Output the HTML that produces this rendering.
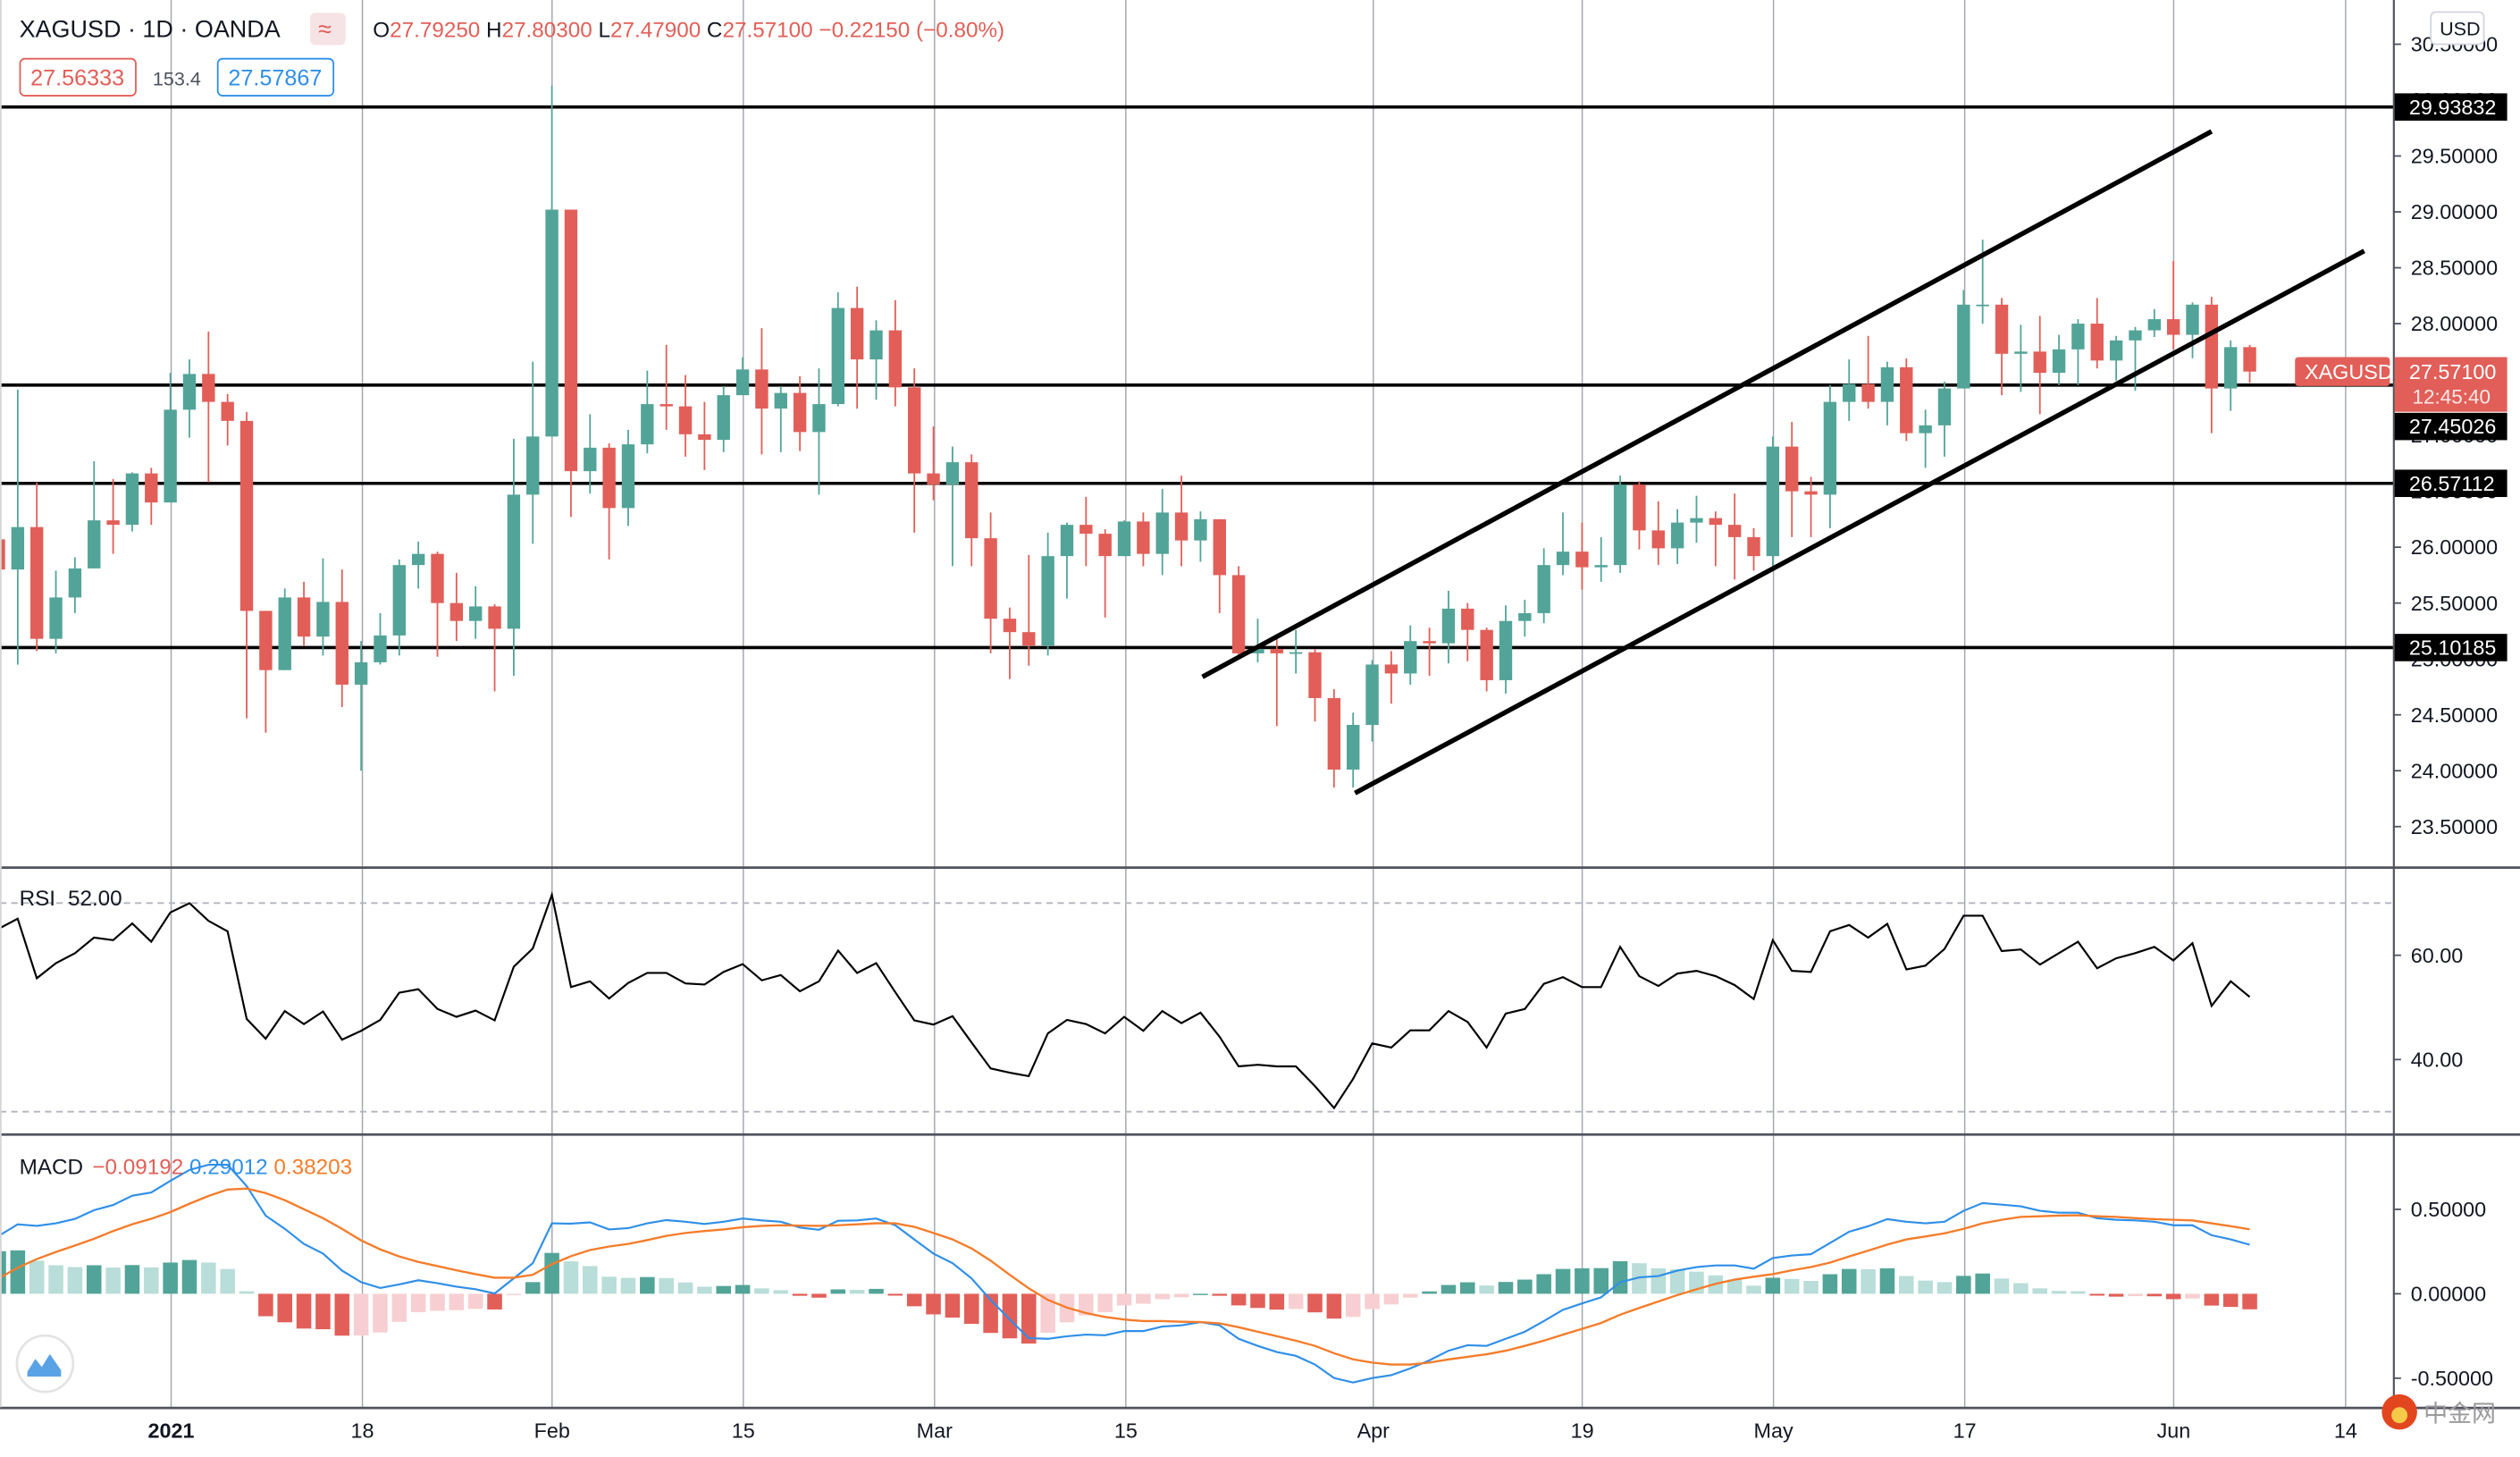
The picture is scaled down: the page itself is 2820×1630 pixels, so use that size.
<!DOCTYPE html>
<html><head><meta charset="utf-8"><title>XAGUSD 1D</title>
<style>
html,body{margin:0;padding:0;background:#fff;}
svg{display:block;font-family:"Liberation Sans","Noto Sans CJK SC",sans-serif;}
</style></head>
<body>
<svg id="chart" width="2820" height="1630" viewBox="0 0 1568 906" preserveAspectRatio="none" xmlns="http://www.w3.org/2000/svg">
<rect x="0" y="0" width="1568" height="906" fill="#ffffff"/>
<g id="grid"></g>
<g id="hlines"></g>
<g id="candles"></g>
<g id="channel"></g>
<g id="rsi"></g>
<g id="macd"></g>
<g id="frame">
  <line x1="0" y1="539.5" x2="1568" y2="539.5" stroke="#50535e" stroke-width="1.5"/>
  <line x1="0" y1="705.5" x2="1568" y2="705.5" stroke="#50535e" stroke-width="1.5"/>
  <line x1="0" y1="875.5" x2="1568" y2="875.5" stroke="#50535e" stroke-width="1.5"/>
  <line x1="1489.5" y1="0" x2="1489.5" y2="875" stroke="#50535e" stroke-width="1.2"/>
  <line x1="0.5" y1="0" x2="0.5" y2="875" stroke="#d6d6d6" stroke-width="1"/>
</g>
<g id="axis"></g>
<g id="taxis"></g>
<g id="header">
  <text x="12" y="23" font-size="15" fill="#131722">XAGUSD · 1D · OANDA</text>
  <rect x="193" y="8" width="22" height="20" rx="3" fill="#f6e3e6"/>
  <text x="198" y="23" font-size="15" fill="#e15f58">≈</text>
  <text x="232" y="23" font-size="13.5" fill="#e15f58"><tspan fill="#131722">O</tspan>27.79250 <tspan fill="#131722">H</tspan>27.80300 <tspan fill="#131722">L</tspan>27.47900 <tspan fill="#131722">C</tspan>27.57100 −0.22150 (−0.80%)</text>
  <rect x="12.5" y="36.5" width="72" height="23" rx="3" fill="#fff" stroke="#e15f58"/>
  <text x="19" y="53" font-size="14" fill="#e15f58">27.56333</text>
  <text x="95" y="53" font-size="12" fill="#50535e">153.4</text>
  <rect x="135.5" y="36.5" width="72" height="23" rx="3" fill="#fff" stroke="#2f8fe8"/>
  <text x="142" y="53" font-size="14" fill="#2f8fe8">27.57867</text>
  <text x="12" y="563" font-size="13.5" fill="#131722">RSI <tspan dx="4">52.00</tspan></text>
  <text x="12" y="730" font-size="13.5" fill="#131722">MACD <tspan dx="2" fill="#e15f58">−0.09192</tspan> <tspan fill="#2f8fe8">0.29012</tspan> <tspan fill="#f57c2a">0.38203</tspan></text>
</g>
<g>
  <circle cx="28" cy="848" r="17.5" fill="#fff" stroke="#e3e3e3" stroke-width="1.5"/>
  <path d="M17 853 L22 845 L26 850 L31 842 L38 852 L38 856 L17 856 Z" fill="#5aa2e6"/>
</g>
<g>
  <rect x="1512.5" y="7.5" width="33" height="20" rx="3" fill="#fff" stroke="#d1d4dc"/>
  <text x="1518" y="22" font-size="12" fill="#131722">USD</text>
</g>
<g>
  <circle cx="1493" cy="878" r="11" fill="#e2461e"/>
  <circle cx="1493" cy="880" r="5" fill="#f7c948"/>
  <text x="1508" y="884" font-size="15" fill="#9a9a9a" font-family="'Noto Sans CJK SC','WenQuanYi Zen Hei',sans-serif">中金网</text>
</g>
</svg>
<script>
// ---- data (index -9 .. 109, daily candles, index 0 = 2021-01-04) ----
const firstIndex = -9;
const openP = [26.07,25.80,26.18,25.18,25.55,25.81,26.24,26.20,26.66,
26.40,27.23,27.55,27.30,27.13,25.43,24.90,25.55,25.20,25.51,
24.77,24.97,25.21,25.84,25.94,25.50,25.34,25.47,25.27,26.47,
26.99,29.02,26.68,26.89,26.35,26.92,27.28,27.26,27.01,26.96,
27.36,27.59,27.24,27.38,27.03,27.28,28.14,27.68,27.94,27.43,
26.66,26.56,26.76,26.08,25.36,25.24,25.12,25.92,26.20,26.12,
25.92,26.23,25.94,26.31,26.06,26.25,25.75,25.05,25.09,25.05,
25.06,24.65,24.01,24.41,24.95,24.87,25.16,25.14,25.45,25.26,
24.81,25.34,25.41,25.84,25.96,25.82,25.84,26.56,26.15,25.99,
26.22,26.26,26.20,26.09,25.92,26.90,26.50,26.47,27.30,27.46,
27.30,27.61,27.02,27.09,27.42,28.16,28.17,27.73,27.75,27.56,
27.77,28.00,27.67,27.85,27.94,28.04,27.90,28.17,27.42,27.79];
const highP = [26.10,27.41,26.58,25.79,25.91,26.77,26.61,26.67,26.71,
27.56,27.68,27.93,27.37,27.21,25.43,25.63,25.69,25.90,25.80,
25.16,25.41,25.89,26.05,25.96,25.77,25.65,25.49,26.97,27.66,
30.13,29.02,27.19,26.93,27.05,27.58,27.81,27.54,27.30,27.44,
27.70,27.96,27.44,27.53,27.60,28.28,28.33,28.03,28.21,27.60,
27.08,26.90,26.83,26.31,25.46,25.93,26.13,26.22,26.45,26.16,
26.24,26.31,26.52,26.64,26.32,26.25,25.83,25.36,25.18,25.26,
25.09,24.73,24.52,24.99,25.07,25.30,25.28,25.61,25.50,25.28,
25.48,25.53,25.99,26.31,26.22,26.09,26.64,26.59,26.41,26.34,
26.46,26.32,26.48,26.17,26.99,27.12,26.63,27.45,27.68,27.89,
27.66,27.69,27.23,27.48,28.30,28.75,28.23,27.99,28.07,27.90,
28.04,28.23,27.89,27.97,28.13,28.56,28.19,28.24,27.85,27.81];
const lowP = [25.75,24.95,25.07,25.05,25.41,25.81,25.94,26.14,26.20,
26.40,26.98,26.58,26.91,24.47,24.34,24.90,25.12,25.03,24.57,
24.00,24.95,25.03,25.63,25.02,25.16,25.18,24.71,24.85,26.03,
26.99,26.27,26.48,25.89,26.19,26.84,27.05,26.81,26.69,26.85,
27.36,26.83,26.85,26.86,26.47,27.26,27.24,27.32,27.26,26.13,
26.42,25.83,25.83,25.05,24.82,24.94,25.03,25.54,25.83,25.37,
25.92,25.83,25.75,25.83,25.87,25.41,25.01,24.97,24.40,24.87,
24.44,23.85,23.85,24.26,24.60,24.77,24.85,24.96,24.98,24.71,
24.69,25.20,25.32,25.75,25.62,25.69,25.77,25.98,25.84,25.85,
26.04,25.83,25.71,25.79,25.79,26.09,26.09,26.17,27.13,27.24,
27.09,26.95,26.71,26.81,27.42,28.00,27.36,27.39,27.19,27.45,
27.45,27.60,27.49,27.40,27.88,27.77,27.69,27.02,27.22,27.47];
const closeP = [25.80,26.18,25.18,25.55,25.81,26.24,26.20,26.66,26.40,
27.23,27.55,27.30,27.13,25.43,24.90,25.55,25.20,25.51,24.77,
24.97,25.21,25.84,25.94,25.50,25.34,25.47,25.27,26.47,26.99,
29.02,26.68,26.89,26.35,26.92,27.28,27.26,27.01,26.96,27.36,
27.59,27.24,27.38,27.03,27.28,28.14,27.68,27.94,27.43,26.66,
26.56,26.76,26.08,25.36,25.24,25.12,25.92,26.20,26.12,25.92,
26.23,25.94,26.31,26.06,26.25,25.75,25.05,25.09,25.05,25.06,
24.65,24.01,24.41,24.95,24.87,25.16,25.14,25.45,25.26,24.81,
25.34,25.41,25.84,25.96,25.82,25.84,26.56,26.15,25.99,26.22,
26.26,26.20,26.09,25.92,26.90,26.50,26.47,27.30,27.46,27.30,
27.61,27.02,27.09,27.42,28.17,28.17,27.73,27.75,27.56,27.77,
28.00,27.67,27.85,27.94,28.04,27.90,28.17,27.42,27.79,27.571];
const rsiValues = [65.1,67.0,55.6,58.5,60.4,63.4,62.9,66.1,62.6,
68.2,70.0,66.6,64.6,47.8,44.0,49.3,46.8,49.2,43.8,
45.5,47.6,52.8,53.5,49.7,48.2,49.4,47.5,57.8,61.3,
71.6,53.9,55.0,51.7,54.7,56.6,56.6,54.6,54.4,56.8,
58.3,55.2,56.2,53.1,55.0,60.9,56.6,58.5,52.9,47.5,
46.7,48.3,43.3,38.3,37.5,36.8,45.0,47.6,46.8,45.0,
48.2,45.5,49.3,47.0,49.0,44.4,38.7,39.0,38.7,38.7,
34.9,30.7,36.3,43.1,42.3,45.6,45.6,49.3,47.2,42.3,
48.8,49.7,54.5,55.8,53.9,53.9,61.6,56.0,54.1,56.5,
57.0,56.0,54.3,51.6,62.9,57.0,56.8,64.6,65.8,63.4,
66.0,57.3,58.0,61.2,67.6,67.6,60.8,61.1,58.2,60.4,
62.6,57.5,59.4,60.4,61.6,59.0,62.3,50.3,55.0,52.0];
const macdValues = [0.343,0.411,0.402,0.417,0.444,0.495,0.526,0.581,0.600,
0.669,0.733,0.764,0.764,0.638,0.463,0.385,0.295,0.238,0.137,
0.069,0.034,0.055,0.080,0.063,0.042,0.027,0.002,0.091,0.181,
0.417,0.415,0.423,0.381,0.389,0.417,0.436,0.427,0.413,0.427,
0.446,0.434,0.427,0.392,0.379,0.432,0.434,0.446,0.406,0.322,
0.238,0.181,0.091,-0.036,-0.152,-0.263,-0.267,-0.251,-0.242,-0.246,
-0.221,-0.221,-0.194,-0.187,-0.168,-0.187,-0.267,-0.309,-0.345,-0.368,
-0.419,-0.499,-0.526,-0.499,-0.482,-0.442,-0.394,-0.337,-0.305,-0.309,
-0.267,-0.225,-0.162,-0.095,-0.057,-0.021,0.069,0.097,0.105,0.137,
0.158,0.168,0.168,0.149,0.211,0.227,0.234,0.301,0.368,0.400,
0.442,0.427,0.417,0.427,0.491,0.537,0.528,0.518,0.491,0.480,
0.480,0.448,0.438,0.434,0.427,0.406,0.406,0.347,0.322,0.290];
const signalValues = [0.091,0.154,0.206,0.248,0.286,0.326,0.371,0.411,0.444,
0.484,0.533,0.579,0.617,0.623,0.596,0.554,0.501,0.448,0.385,
0.316,0.263,0.221,0.189,0.164,0.139,0.116,0.095,0.095,0.112,
0.175,0.223,0.259,0.280,0.295,0.318,0.343,0.360,0.371,0.381,
0.394,0.402,0.406,0.404,0.402,0.406,0.411,0.417,0.417,0.396,
0.360,0.322,0.269,0.196,0.112,0.032,-0.036,-0.082,-0.114,-0.137,
-0.152,-0.162,-0.162,-0.166,-0.168,-0.175,-0.198,-0.225,-0.251,-0.278,
-0.309,-0.352,-0.389,-0.408,-0.419,-0.419,-0.408,-0.389,-0.373,-0.358,
-0.337,-0.309,-0.278,-0.242,-0.208,-0.173,-0.124,-0.084,-0.046,-0.008,
0.027,0.059,0.084,0.101,0.116,0.139,0.158,0.185,0.221,0.255,
0.291,0.322,0.339,0.358,0.385,0.417,0.438,0.455,0.459,0.463,
0.465,0.459,0.455,0.448,0.442,0.438,0.434,0.417,0.400,0.382];
const levelPrices = [29.93832, 27.45026, 26.57112, 25.10185];
const levelLabelPrices = [29.93832, 27.0800, 26.57112, 25.10185];
const channelUpperIdx = [54.1, 107.0];
const channelUpperPrice = [24.84, 29.72];
const channelLowerIdx = [62.1, 115.0];
const channelLowerPrice = [23.80, 28.65];
const priceTicks = [23.5,24.0,24.5,25.0,25.5,26.0,26.5,27.0,27.5,28.0,28.5,29.0,29.5,30.0,30.5];
const rsiTicks = [60, 40];
const macdTicks = [0.5, 0, -0.5];
const timeLabelIdx = [0,10,20,30,40,50,63,74,84,94,105,114];
const timeLabels = ["2021","18","Feb","15","Mar","15","Apr","19","May","17","Jun","14"];
const lastPrice = 27.571;

// ---- scales ----
const NS = "http://www.w3.org/2000/svg";
function xOf(idx){ return 106 + idx * 11.87; }
function yPrice(p){ return 97 + (29.5 - p) * 69.5; }
function yRsi(v){ return 594 - (v - 60) * 3.243; }
function yMacd(v){ return 804.5 - v * 105; }
function mk(tag, attrs, parent){
  const e = document.createElementNS(NS, tag);
  for (const k in attrs) e.setAttribute(k, attrs[k]);
  parent.appendChild(e);
  return e;
}
const GREEN = "#53a498", RED = "#e15f58";
const gGrid = document.getElementById("grid");
const gCandles = document.getElementById("candles");
const gH = document.getElementById("hlines");
const gCh = document.getElementById("channel");
const gRsi = document.getElementById("rsi");
const gMacd = document.getElementById("macd");
const gAxis = document.getElementById("axis");
const gT = document.getElementById("taxis");

// vertical grid + time labels
timeLabelIdx.forEach((ti, k) => {
  const x = Math.round(xOf(ti)) + 0.5;
  const gl = mk("line", {x1:x, y1:0, x2:x, y2:875, stroke:"#a3a6ae", "stroke-width":0.8}, gGrid);
  
  
  const t = mk("text", {x:x, y:894, "font-size":13, "text-anchor":"middle", fill:"#131722", "font-weight": k===0?"bold":"normal"}, gT);
  t.textContent = timeLabels[k];
  
  
});

// RSI band dashed lines
[70, 30].forEach(v => {
  const l = mk("line", {x1:0, y1:yRsi(v), x2:1489, y2:yRsi(v), stroke:"#b2b5be", "stroke-width":1, "stroke-dasharray":"4 3"}, gRsi);
  
  
});

// horizontal levels
levelPrices.forEach(p => {
  const l = mk("line", {x1:0, y1:yPrice(p), x2:1489, y2:yPrice(p), stroke:"#000", "stroke-width":2}, gH);
  
  
});

// candles
for (let i = 0; i < openP.length; i++) {
  const idx = firstIndex + i;
  const x = xOf(idx);
  const up = closeP[i] >= openP[i];
  const col = up ? GREEN : RED;
  const w = mk("line", {x1:x, y1:yPrice(highP[i]), x2:x, y2:yPrice(lowP[i]), stroke:col, "stroke-width":1}, gCandles);
  
  
  const top = yPrice(Math.max(openP[i], closeP[i]));
  const bot = yPrice(Math.min(openP[i], closeP[i]));
  const b = mk("rect", {x:x-4, y:top, width:8, height:Math.max(1, bot-top), fill:col}, gCandles);
  
  
}

// channel lines
function chanLine(ix, pr){
  const l = mk("line", {x1:xOf(ix[0]), y1:yPrice(pr[0]), x2:xOf(ix[1]), y2:yPrice(pr[1]), stroke:"#000", "stroke-width":3}, gCh);
  return l;
}
const cu = chanLine(channelUpperIdx, channelUpperPrice);


const cl = chanLine(channelLowerIdx, channelLowerPrice);



// last price line (thin)
// RSI line
let rp = "";
rsiValues.forEach((v, i) => { rp += (i ? "L" : "M") + xOf(firstIndex + i).toFixed(1) + " " + yRsi(v).toFixed(1); });
const rl = mk("path", {d:rp, fill:"none", stroke:"#000", "stroke-width":1.2}, gRsi);



// MACD histogram
let prevH = null;
macdValues.forEach((m, i) => {
  const h = m - signalValues[i];
  let col;
  if (h >= 0) col = (prevH === null || h >= prevH) ? "#53a498" : "#b9ddd8";
  else col = (prevH === null || h <= prevH) ? "#e15f58" : "#f7cfd2";
  prevH = h;
  const x = xOf(firstIndex + i);
  const y0 = yMacd(0), y1 = yMacd(h);
  const r = mk("rect", {x:x-4.6, y:Math.min(y0,y1), width:9.2, height:Math.max(0.8, Math.abs(y1-y0)), fill:col}, gMacd);
  
  
});
let mp = "", sp = "";
macdValues.forEach((v, i) => { mp += (i ? "L" : "M") + xOf(firstIndex + i).toFixed(1) + " " + yMacd(v).toFixed(1); });
signalValues.forEach((v, i) => { sp += (i ? "L" : "M") + xOf(firstIndex + i).toFixed(1) + " " + yMacd(v).toFixed(1); });
const ml = mk("path", {d:mp, fill:"none", stroke:"#2f8fe8", "stroke-width":1.2}, gMacd);


const sl = mk("path", {d:sp, fill:"none", stroke:"#f57c2a", "stroke-width":1.3}, gMacd);



// price axis ticks
priceTicks.forEach(p => {
  const y = yPrice(p);
  if (y < 10 || y > 530) return;
  const tk = mk("line", {x1:1489, y1:y, x2:1494, y2:y, stroke:"#50535e", "stroke-width":1}, gAxis);
  
  
  const t = mk("text", {x:1500, y:y+4.5, "font-size":13, fill:"#131722"}, gAxis);
  t.textContent = p.toFixed(5);
  
  
});
rsiTicks.forEach(v => {
  const y = yRsi(v);
  const tk = mk("line", {x1:1489, y1:y, x2:1494, y2:y, stroke:"#50535e", "stroke-width":1}, gAxis);
  
  
  const t = mk("text", {x:1500, y:y+4.5, "font-size":13, fill:"#131722"}, gAxis);
  t.textContent = v.toFixed(2);
  
  
});
macdTicks.forEach(v => {
  const y = yMacd(v);
  const tk = mk("line", {x1:1489, y1:y, x2:1494, y2:y, stroke:"#50535e", "stroke-width":1}, gAxis);
  
  
  const t = mk("text", {x:1500, y:y+4.5, "font-size":13, fill:"#131722"}, gAxis);
  t.textContent = (v < 0 ? "-" : "") + Math.abs(v).toFixed(5);
  
  
});

// level labels
levelPrices.forEach((p, k) => {
  const y = yPrice(levelLabelPrices[k]);
  const r = mk("rect", {x:1490, y:y-8.5, width:70, height:17, fill:"#000"}, gAxis);
  
  
  const t = mk("text", {x:1499, y:y+4.5, "font-size":13, fill:"#fff"}, gAxis);
  t.textContent = p.toFixed(5);
  
  
});

// last price labels
const ly = yPrice(lastPrice);
const lb = mk("rect", {x:1490, y:ly-9, width:70, height:34, fill:"#e15f58"}, gAxis);


const lt = mk("text", {x:1499, y:ly+4.5, "font-size":13, fill:"#fff"}, gAxis);
lt.textContent = lastPrice.toFixed(5);


const ct = mk("text", {x:1501, y:ly+20, "font-size":12.5, fill:"#fde8e8"}, gAxis);
ct.textContent = "12:45:40";


const sb = mk("rect", {x:1428, y:ly-9, width:59, height:18, rx:2, fill:"#e15f58"}, gAxis);


const st = mk("text", {x:1434, y:ly+4.5, "font-size":13, fill:"#fff"}, gAxis);
st.textContent = "XAGUSD";


</script>
</body></html>
